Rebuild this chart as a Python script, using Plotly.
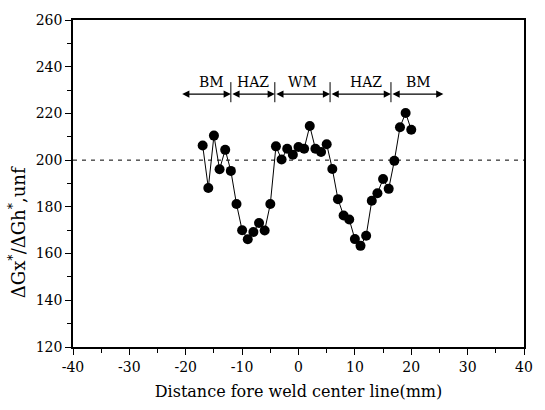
import plotly.graph_objects as go

# Data
distance_mm = [-17, -16, -15, -14, -13, -12, -11, -10, -9, -8, -7, -6, -5,
               -4, -3, -2, -1, 0, 1, 2, 3, 4, 5, 6,
               7, 8, 9, 10, 11, 12, 13, 14, 15, 16, 17, 18, 19, 20]
ratio = [206.3, 188.1, 210.5, 196.1, 204.4, 195.4, 181.2, 170.0, 166.1, 169.2, 173.1, 169.9, 181.2,
         205.9, 200.3, 204.9, 202.3, 205.6, 204.9, 214.6, 204.9, 203.5, 206.8, 196.2,
         183.3, 176.3, 174.6, 166.2, 163.3, 167.6, 182.6, 185.8, 191.9, 187.7, 199.7, 214.1, 220.2, 213.0]

reference_level = 200

zone_labels = ["BM", "HAZ", "WM", "HAZ", "BM"]
zone_bounds = [-20.9, -12.0, -4.2, 5.6, 16.4, 25.7]
zone_label_x = [-15.4, -8.1, 0.7, 12.0, 21.2]

x_ticks = [-40, -30, -20, -10, 0, 10, 20, 30, 40]
x_ticktext = ["-40", "-30", "-20", "-10", "0", "10", "20", "30", "40"]
y_ticks = [120, 140, 160, 180, 200, 220, 240, 260]

FONT = "DejaVu Serif"

fig = go.Figure()

fig.add_trace(go.Scatter(
    x=distance_mm, y=ratio, mode="lines+markers",
    line=dict(color="black", width=1),
    marker=dict(color="black", size=10),
    showlegend=False,
))

# horizontal dashed reference line
fig.add_shape(type="line", xref="paper", yref="y", x0=0, x1=1,
              y0=reference_level, y1=reference_level,
              line=dict(color="black", width=1, dash="4px,5px"))

arrow_y = 228.3
for i in range(len(zone_labels)):
    fig.add_annotation(
        x=zone_bounds[i + 1], y=arrow_y, ax=zone_bounds[i], ay=arrow_y,
        xref="x", yref="y", axref="x", ayref="y",
        text="", showarrow=True, arrowhead=2, arrowsize=1.2, arrowwidth=1.2,
        arrowside="end+start", arrowcolor="black", standoff=0, startstandoff=0,
    )
    fig.add_annotation(
        x=zone_label_x[i], y=arrow_y + 0.8, xref="x", yref="y",
        text=zone_labels[i], showarrow=False, yanchor="bottom",
        font=dict(family=FONT, size=14, color="black"),
    )

for b in zone_bounds[1:-1]:
    fig.add_shape(type="line", xref="x", yref="y", x0=b, x1=b,
                  y0=224.8, y1=233.4, line=dict(color="black", width=1))

# y-axis title (placed as rotated text)
fig.add_annotation(
    x=-0.125, y=0.35, xref="paper", yref="paper",
    text="ΔGx<sup>*</sup>/ΔGh<sup>*</sup>,unf", textangle=-90,
    showarrow=False, xanchor="center", yanchor="middle",
    font=dict(family=FONT, size=18, color="black"),
)

fig.update_layout(
    width=545, height=410,
    margin=dict(l=73, r=21, t=14, b=62),
    paper_bgcolor="white", plot_bgcolor="white",
    font=dict(family=FONT, size=13, color="black"),
)

fig.update_xaxes(
    range=[-40, 40], tickvals=x_ticks, ticktext=x_ticktext,
    ticks="outside", ticklen=6, tickwidth=1, tickcolor="black",
    minor=dict(dtick=5, tick0=0, ticks="outside", ticklen=4, tickcolor="black"),
    showline=True, linecolor="black", linewidth=1.5, mirror=True,
    showgrid=False, zeroline=False, ticklabeloverflow="allow",
    tickfont=dict(family=FONT, size=14, color="black"),
    title=dict(text="Distance fore weld center line(mm)", standoff=12,
               font=dict(family=FONT, size=16, color="black")),
)
fig.update_yaxes(
    range=[120, 260], tickvals=y_ticks,
    ticks="outside", ticklen=6, tickwidth=1, tickcolor="black",
    minor=dict(dtick=10, tick0=0, ticks="outside", ticklen=4, tickcolor="black"),
    showline=True, linecolor="black", linewidth=1.5, mirror=True,
    showgrid=False, zeroline=False,
    tickfont=dict(family=FONT, size=14, color="black"),
)

fig.write_html("out.html", config={"displayModeBar": False},
               post_script="document.body.style.margin='0px';document.body.style.overflow='hidden';")
